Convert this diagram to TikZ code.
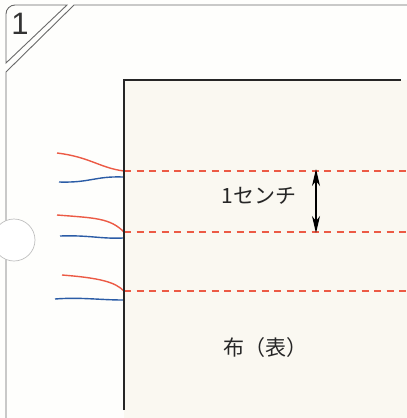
\documentclass[tikz,border=0pt]{standalone}
\usepackage{fontspec}
\setmainfont{Liberation Sans}
\newfontfamily\cjk{Noto Sans CJK JP}
\usetikzlibrary{arrows.meta}
\definecolor{thred}{HTML}{EC5A45}
\definecolor{thblue}{HTML}{2B5CA6}
\definecolor{cloth}{HTML}{FAF8F1}
\definecolor{card}{HTML}{FEFEFC}
\definecolor{edge}{HTML}{6A6A6A}
\tikzset{
  cardline/.style={draw=edge, line width=0.9pt},
  redthread/.style={draw=thred, line width=1.4pt},
  bluethread/.style={draw=thblue, line width=1.4pt},
  stitch/.style={draw=thred, line width=1.4pt, dash pattern=on 7pt off 5.5pt},
  clothedge/.style={draw=black!85, line width=2.6pt},
  label/.style={font=\cjk\fontsize{21}{21}\selectfont, text=black!85, inner sep=0pt},
  tip/.tip={Stealth[length=17pt,width=8pt,inset=5pt]}
}
\begin{document}
\begin{tikzpicture}[x=1pt,y=-1pt]
\useasboundingbox (0,0) rectangle (407,418);
\fill[card] (0,0) rectangle (407,418);
% card outline with tab
\draw[cardline] (67,5) [rounded corners=9pt]-- (6,5) [sharp corners]-- (6,63) -- cycle;
\draw[cardline] (6,418) -- (6,72) -- (74,5) -- (407,5);
\node[font=\fontsize{31}{31}\selectfont, text=black!80, inner sep=0pt] (num) at (20,24) {1};
% hole
\draw[draw=black!25, fill=white, line width=0.7pt] (14,240) circle (21);
% cloth
\fill[cloth] (124,80) rectangle (407,418);
% stitches
\coordinate (s1) at (124,171);
\coordinate (s2) at (124,232);
\coordinate (s3) at (124,291);
\coordinate (e1) at (407,171);
\coordinate (e2) at (407,232);
\coordinate (e3) at (407,291);
\draw[stitch] (s1) -- (e1);
\draw[stitch] (s2) -- (e2);
\draw[stitch] (s3) -- (e3);
% threads
\coordinate (r1) at (57,153);
\coordinate (r2) at (57,215);
\coordinate (r3) at (62,275);
\coordinate (b1) at (59,182);
\coordinate (b2) at (60,236);
\coordinate (b3) at (55,299);
\coordinate (bb1) at (123,177);
\coordinate (bb2) at (123,238);
\coordinate (bb3) at (123,300);
\draw[redthread] (r1) .. controls (90,157) and (100,168) .. (s1);
\draw[redthread] (r2) .. controls (95,218) and (110,218) .. (s2);
\draw[redthread] (r3) .. controls (100,278) and (115,282) .. (s3);
\draw[bluethread] (b1) .. controls (90,183) and (95,176) .. (bb1);
\draw[bluethread] (b2) .. controls (90,235) and (100,239) .. (bb2);
\draw[bluethread] (b3) .. controls (80,297) and (100,300) .. (bb3);
% cloth edge
\draw[clothedge] (124,410) -- (124,80) -- (401,80);
% measure
\coordinate (m1) at (316,169);
\coordinate (m2) at (316,233);
\draw[line width=1.2pt, tip-tip] (m1) -- (m2);
\node[label] (cm) at (259,196) {1センチ};
\node[label] (clothlabel) at (265,348) {布（表）};
\end{tikzpicture}
\end{document}
